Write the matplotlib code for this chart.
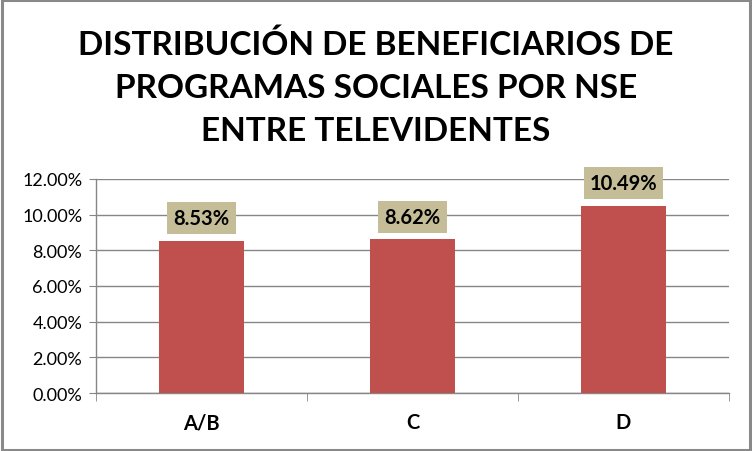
import matplotlib.pyplot as plt
from matplotlib.patches import Rectangle
from matplotlib.ticker import PercentFormatter, FixedLocator

# ===============================
# Data
# ===============================
categories = ["A/B", "C", "D"]
values = [0.0853, 0.0862, 0.1049]
value_labels = ["8.53%", "8.62%", "10.49%"]
y_ticks = [0.0, 0.02, 0.04, 0.06, 0.08, 0.10, 0.12]

TITLE = "DISTRIBUCIÓN DE BENEFICIARIOS DE\nPROGRAMAS SOCIALES POR NSE\nENTRE TELEVIDENTES"
BAR_COLOR = "#C0504D"
LABEL_BG = "#C4BD97"
GRID_COLOR = "#868686"

plt.rcParams["font.family"] = ["Lato", "DejaVu Sans"]

fig = plt.figure(figsize=(7.52, 4.52), dpi=100)
fig.patches.append(Rectangle((0.002, 0.003), 0.995, 0.994, transform=fig.transFigure,
                             fill=False, edgecolor="#898989", linewidth=2.2))

ax = fig.add_axes([0.1277, 0.1283, 0.8417, 0.4735])
x = range(len(categories))
ax.bar(x, values, width=0.40, color=BAR_COLOR, zorder=3)

ax.set_xlim(-0.5, len(categories) - 0.5)
ax.set_ylim(0, 0.12)
ax.yaxis.set_major_locator(FixedLocator(y_ticks))
ax.yaxis.set_major_formatter(PercentFormatter(1.0, decimals=2))
ax.grid(axis="y", color=GRID_COLOR, linewidth=1.0, zorder=0)

for side in ["top", "right"]:
    ax.spines[side].set_visible(False)
for side in ["left", "bottom"]:
    ax.spines[side].set_color(GRID_COLOR)
    ax.spines[side].set_linewidth(1.0)

ax.set_xticks(list(x))
ax.set_xticklabels(categories, fontsize=14.5, fontweight="bold")
ax.set_xticks([-0.5, 0.5, 1.5, 2.5], minor=True)
ax.tick_params(axis="x", which="major", length=0, pad=14)
ax.tick_params(axis="x", which="minor", length=6, color=GRID_COLOR)
ax.tick_params(axis="y", length=5, color=GRID_COLOR, labelsize=13, pad=5)

for i, (v, lab) in enumerate(zip(values, value_labels)):
    ax.annotate(lab, (i, v), xytext=(0, 9), textcoords="offset points",
                ha="center", va="bottom", fontsize=14.5, fontweight="bold", zorder=5,
                bbox=dict(boxstyle="square,pad=0.3", facecolor=LABEL_BG, edgecolor="none"))

fig.text(0.5, 0.806, TITLE, ha="center", va="center", fontsize=24,
         fontweight="bold", linespacing=1.6)

fig.savefig("out.png", dpi=100)
plt.close(fig)
